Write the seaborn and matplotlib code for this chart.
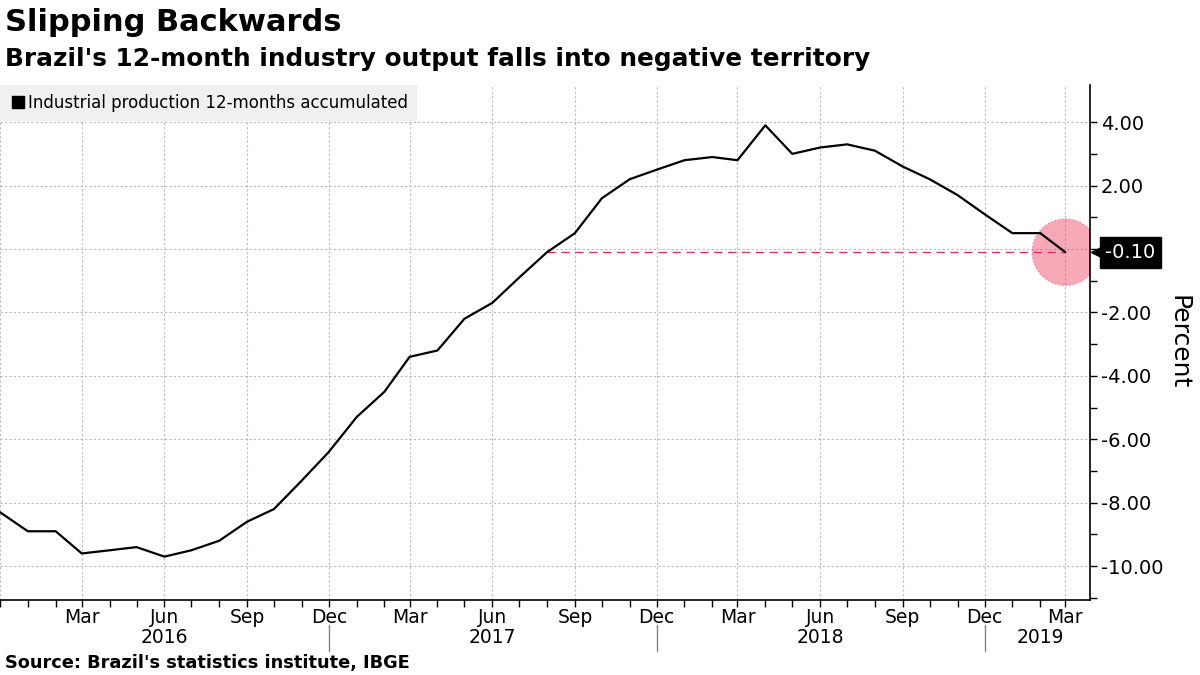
import pandas as pd
import matplotlib.pyplot as plt
import matplotlib.dates as mdates
import matplotlib.transforms as mtransforms
from matplotlib.lines import Line2D
from matplotlib.ticker import FuncFormatter
import seaborn as sns

# Industrial production, 12-months accumulated (%), Dec 2015 - Mar 2019
months = pd.date_range('2015-12-01', '2019-03-01', freq='MS')
values = [-8.3,
          -8.9, -8.9, -9.6, -9.5, -9.4, -9.7, -9.5, -9.2, -8.6, -8.2, -7.3, -6.4,
          -5.3, -4.5, -3.4, -3.2, -2.2, -1.7, -0.9, -0.1, 0.5, 1.6, 2.2, 2.5,
          2.8, 2.9, 2.8, 3.9, 3.0, 3.2, 3.3, 3.1, 2.6, 2.2, 1.7, 1.1,
          0.5, 0.5, -0.1]
series_label = 'Industrial production 12-months accumulated'
y_ticks = [-10, -8, -6, -4, -2, 0, 2, 4]
years = ['2016', '2017', '2018', '2019']
year_pos = ['2016-06-01', '2017-06-01', '2018-06-01', '2019-02-01']
year_breaks = ['2016-12-01', '2017-12-01', '2018-12-01']

df = pd.DataFrame({'month': months, 'value': values})

sns.set_style('white')
plt.rcParams['font.family'] = ['DejaVu Sans']
plt.rcParams['text.color'] = 'black'

fig = plt.figure(figsize=(12, 6.75), dpi=100)
ax = fig.add_axes([0.0, 0.111, 0.908, 0.763])

sns.lineplot(data=df, x='month', y='value', color='black', linewidth=1.6, ax=ax, zorder=4)

# latest value marker and reference line
last_val = values[-1]
first_idx = values.index(last_val)
ax.hlines(last_val, months[first_idx], months[-1], colors='#d6336c', linestyles=(0, (6, 4)),
          linewidth=1, zorder=3)
ax.scatter([months[-1]], [last_val], s=2300, color='#ee3355', alpha=0.42,
           edgecolor='#d0304f', linewidth=1, linestyle=':', zorder=2)

ax.set_xlim(months[0], pd.Timestamp('2019-03-28'))
ax.set_ylim(-11.07, 5.17)

# axes styling
for s in ['top', 'left']:
    ax.spines[s].set_visible(False)
ax.spines['bottom'].set_color('black')
ax.spines['right'].set_color('black')
ax.spines['bottom'].set_linewidth(1.2)
ax.spines['right'].set_linewidth(1.2)

ax.xaxis.set_major_locator(mdates.MonthLocator(bymonth=[3, 6, 9, 12]))
ax.xaxis.set_minor_locator(mdates.MonthLocator())
ax.xaxis.set_major_formatter(FuncFormatter(
    lambda x, pos: '' if mdates.num2date(x).year < 2016 else mdates.num2date(x).strftime('%b')))
ax.tick_params(axis='x', which='both', direction='out', length=5, width=1, pad=1,
               labelsize=13.5, colors='black', bottom=True)

ax.yaxis.tick_right()
ax.yaxis.set_label_position('right')
ax.set_yticks(y_ticks)
ax.set_yticklabels(['' if v == 0 else f'{v:.2f}' for v in y_ticks])
ax.set_yticks(range(-11, 5, 2), minor=True)
ax.tick_params(axis='y', which='both', direction='out', length=5, width=1, pad=3,
               labelsize=14, colors='black', right=True)

ax.grid(True, which='major', color='#bbbbbb', linestyle=(0, (2, 2)), linewidth=0.8)
ax.set_xlabel('')
ax.set_ylabel('Percent', fontsize=18, rotation=270, labelpad=20, color='black')

# year labels and separators
trans = mtransforms.blended_transform_factory(ax.transData, ax.transAxes)
for yr, pos in zip(years, year_pos):
    ax.text(pd.Timestamp(pos), -0.073, yr, transform=trans, ha='center', va='center',
            fontsize=13.5)
for b in year_breaks:
    ax.plot([pd.Timestamp(b)] * 2, [-0.048, -0.098], transform=trans, color='#777777',
            linewidth=0.9, clip_on=False)

# latest value label
trans_y = mtransforms.blended_transform_factory(ax.transAxes, ax.transData)
ax.plot([1.0105], [last_val], marker='<', markersize=14, color='black', transform=trans_y,
        clip_on=False, zorder=6)
ax.text(1.0145, last_val, f'{last_val:.2f}', transform=trans_y, ha='left', va='center',
        fontsize=14, color='white', zorder=7,
        bbox=dict(boxstyle='square,pad=0.3', facecolor='black', edgecolor='black'))

# legend
handle = Line2D([0], [0], marker='s', color='black', linestyle='none', markersize=8)
leg = ax.legend([handle], [series_label], loc='upper left', bbox_to_anchor=(0, 1),
                frameon=True, facecolor='#f0f0f0', edgecolor='none', fancybox=False,
                borderaxespad=0, handletextpad=0.1, borderpad=0.55, handlelength=1.0,
                fontsize=12)
leg.get_frame().set_alpha(1)

# titles and source
fig.text(0.004, 0.988, 'Slipping Backwards', fontsize=22, fontweight='bold', va='top')
fig.text(0.004, 0.930, "Brazil's 12-month industry output falls into negative territory",
         fontsize=17.8, fontweight='bold', va='top')
fig.text(0.004, 0.018, "Source: Brazil's statistics institute, IBGE", fontsize=12.8,
         fontweight='bold', va='center')

plt.savefig('out.png', dpi=100)
